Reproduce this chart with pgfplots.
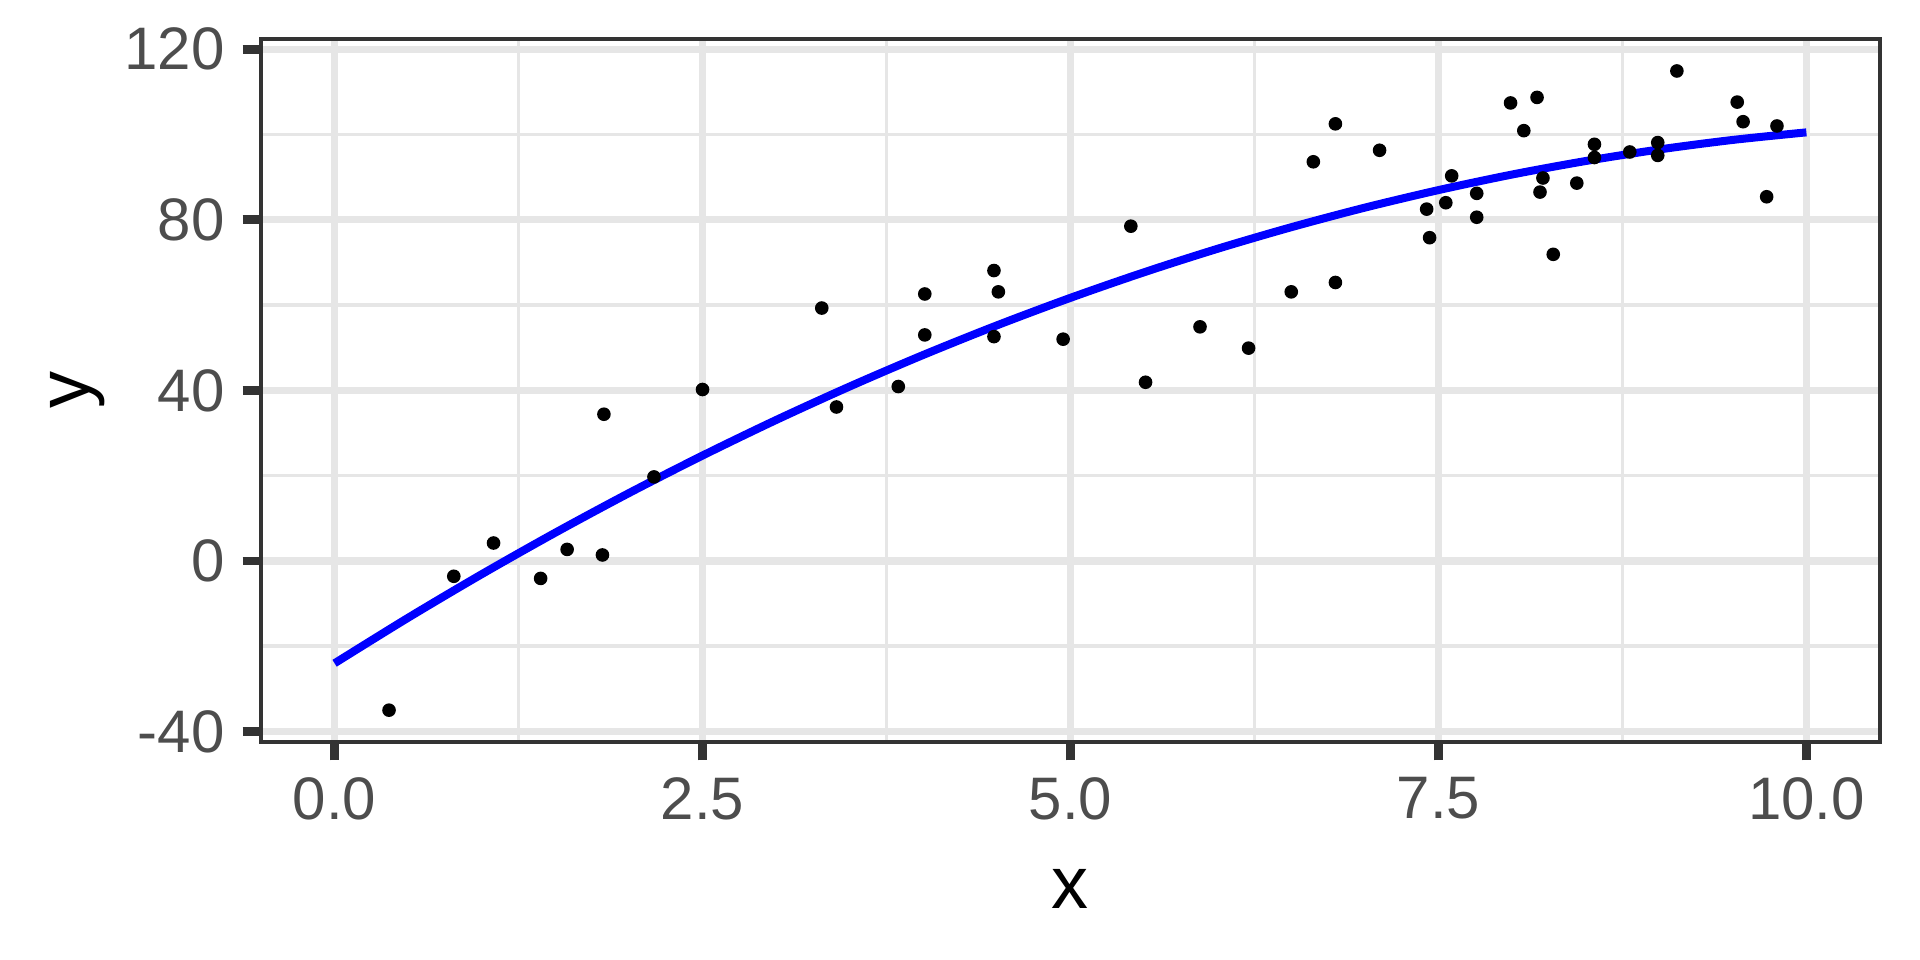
\documentclass[border=0pt]{standalone}
\usepackage{fontspec}
\setmainfont{Liberation Sans}
\usepackage{pgfplots}
\pgfplotsset{compat=1.18}
\definecolor{tickgray}{HTML}{4D4D4D}
\definecolor{framegray}{HTML}{333333}
\definecolor{gridgray}{HTML}{E6E6E6}
\begin{document}
\begin{tikzpicture}
\useasboundingbox (-65.25pt,-54.5pt) rectangle (414.75pt,185.5pt);
\begin{axis}[
  at={(0,0)}, anchor=south west,
  scale only axis, width=404.75pt, height=175.75pt,
  xmin=-0.5, xmax=10.5, ymin=-42.46, ymax=122.4,
  xtick={0,2.5,5,7.5,10}, xticklabels={0.0,2.5,5.0,7.5,10.0},
  ytick={-40,0,40,80,120},
  minor xtick={1.25,3.75,6.25,8.75}, minor ytick={-20,20,60,100},
  grid=both,
  major grid style={gridgray, line width=1.8pt},
  minor grid style={gridgray, line width=0.9pt},
  axis line style={framegray, line width=1pt},
  tick align=outside, major tick length=4.6pt, minor tick length=0pt,
  major tick style={color=framegray, line width=2.2pt},
  xtick pos=left, ytick pos=left,
  ticklabel style={font=\fontsize{15}{18}\selectfont, text=tickgray, inner sep=0pt},
  yticklabel style={xshift=-4.3pt},
  xticklabel style={yshift=-4pt},
  /pgf/number format/assume math mode=true,
  xlabel={x}, ylabel={y},
  xlabel style={font=\fontsize{18.5}{22}\selectfont, at={(axis description cs:0.5,-0.2091)}, anchor=center},
  ylabel style={font=\fontsize{18.5}{22}\selectfont, at={(axis description cs:-0.113,0.5)}, anchor=center},
]
\addplot[only marks, mark=*, mark size=1.5pt, black] coordinates {
(0.37,-35.0) (0.81,-3.6) (1.08,4.2) (1.40,-4.1) (1.58,2.7) (1.82,1.4) (1.83,34.4) (2.17,19.7)
(2.50,40.2) (3.31,59.3) (3.41,36.1) (3.83,40.9) (4.01,62.6) (4.01,53.0) (4.48,68.1) (4.51,63.1)
(4.48,52.6) (4.95,52.0)
(5.41,78.5) (5.51,41.9) (5.88,54.9) (6.21,49.9) (6.50,63.1) (6.65,93.6) (6.80,102.5) (6.80,65.3)
(7.10,96.3) (7.42,82.5) (7.44,75.8) (7.55,84.0) (7.59,90.3) (7.76,86.2) (7.76,80.6)
(7.99,107.4) (8.17,108.7) (8.08,100.9) (8.56,97.7) (8.56,94.6) (8.21,89.8) (8.19,86.5) (8.44,88.6)
(8.28,71.9) (8.80,95.9) (8.99,98.1) (8.99,95.1) (9.12,114.9) (9.53,107.6) (9.57,103.0) (9.80,102.0)
(9.73,85.4)
};
\addplot[blue, line width=2pt, smooth] coordinates {
(0,-24.0) (0.5,-13.32) (1,-3.11) (1.5,6.63) (2,15.91) (2.5,24.71) (3,33.05) (3.5,40.91)
(4,48.31) (4.5,55.24) (5,61.70) (5.5,67.69) (6,73.21) (6.5,78.26) (7,82.85) (7.5,86.96)
(8,90.61) (8.5,93.78) (9,96.49) (9.5,98.73) (10,100.5)
};
\end{axis}
\end{tikzpicture}
\end{document}
